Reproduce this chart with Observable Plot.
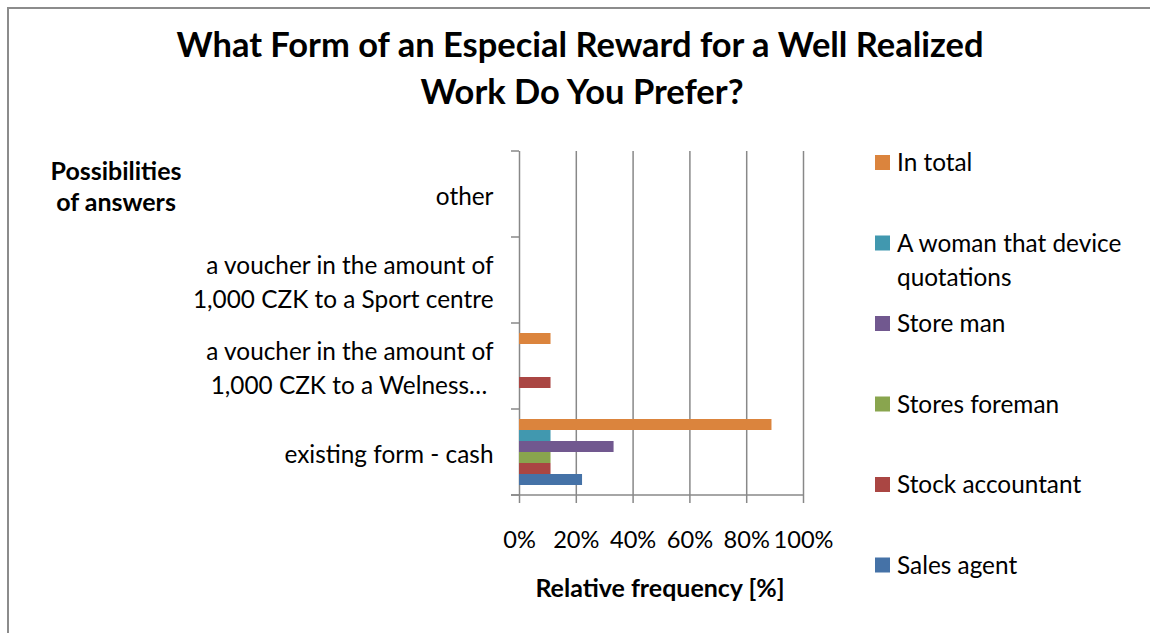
<!DOCTYPE html>
<html>
<head>
<meta charset="utf-8">
<script src="https://cdn.jsdelivr.net/npm/d3@7"></script>
<script src="https://cdn.jsdelivr.net/npm/@observablehq/plot@0.6"></script>
<style>
  body { margin: 0; background: #fff; }
  #wrap { position: relative; width: 1150px; height: 633px; overflow: hidden; background: #fff; }
  #border { position: absolute; left: 7px; top: 7px; width: 1300px; height: 800px;
            border-left: 2px solid #8c8c8c; border-top: 2px solid #8c8c8c; }
  #wrap svg { position: absolute; left: 0; top: 0; }
</style>
</head>
<body>
<div id="wrap"><div id="border"></div></div>
<script>
// ---- data ----
const categories = [
  "existing form - cash",
  "a voucher in the amount of 1,000 CZK to a Welness…",
  "a voucher in the amount of 1,000 CZK to a Sport centre",
  "other"
];
const categoryLabels = [
  "existing form - cash",
  "a voucher in the amount of\n1,000 CZK to a Welness…\u00A0",
  "a voucher in the amount of\n1,000 CZK to a Sport centre",
  "other"
];
const seriesNames = ["Sales agent", "Stock accountant", "Stores foreman", "Store man", "A woman that device quotations", "In total"];
const seriesColors = ["#4572A7", "#AA4643", "#89A54E", "#71588F", "#4198AF", "#DB843D"];
// values in % per category (same order as categories)
const salesAgent      = [22.2, 0, 0, 0];
const stockAccountant = [11.1, 11.1, 0, 0];
const storesForeman   = [11.1, 0, 0, 0];
const storeMan        = [33.3, 0, 0, 0];
const womanQuotations = [11.1, 0, 0, 0];
const inTotal         = [88.9, 11.1, 0, 0];
const seriesValues = [salesAgent, stockAccountant, storesForeman, storeMan, womanQuotations, inTotal];
const xTicks = [0, 20, 40, 60, 80, 100];

const titleLines = ["What Form of an Especial Reward for a Well Realized", "Work Do You Prefer?"];
const yTitleLines = ["Possibilities", "of answers"];
const xTitle = "Relative frequency [%]";

// ---- font fitting (Calibri-like sizes with Lato) ----
const ctx = document.createElement("canvas").getContext("2d");
function fitSize(text, weight, target) {
  ctx.font = `${weight} 100px Lato`;
  return 100 * target / ctx.measureText(text).width;
}
const base = fitSize("existing form - cash", "normal", 209);
const tickFont = fitSize("100%", "normal", 60);
const titleSize = fitSize(titleLines[0], "bold", 809);
const axisTitleSize = fitSize(xTitle, "bold", 250);

// keep zero values so that every category facet exists
const table = seriesNames.flatMap((s, si) =>
  categories.map((c, ci) => ({category: c, series: s, value: seriesValues[si][ci]}))
);

const gridColor = "#888888";

const chart = Plot.plot({
  width: 1150,
  height: 633,
  marginLeft: 519,
  marginRight: 347,
  marginTop: 151,
  marginBottom: 138,
  style: {fontFamily: "Lato, sans-serif", background: "transparent", overflow: "visible", color: "#000"},
  x: {domain: [0, 100]},
  y: {domain: seriesNames.slice().reverse(), paddingInner: 0, paddingOuter: 0.8, axis: null},
  fy: {domain: categories.slice().reverse(), padding: 0},
  color: {domain: seriesNames, range: seriesColors},
  marks: [
    Plot.ruleX(xTicks, {stroke: gridColor, strokeWidth: 1.5}),
    Plot.barX(table, {x: "value", y: "series", fy: "category", fill: "series"}),
    Plot.axisX(xTicks, {
      tickSize: 8, tickPadding: 44 - 0.71 * tickFont, stroke: gridColor, strokeWidth: 1.5,
      fill: "#000", fontSize: tickFont, tickFormat: d => d + "%", label: null
    }),
    Plot.axisFy({
      anchor: "left", tickSize: 0, tickPadding: 26, fontSize: base, lineHeight: 34 / base,
      fill: "#000", label: null,
      tickFormat: d => categoryLabels[categories.indexOf(d)]
    })
  ]
});

// axis line & category boundary ticks, positioned with Plot's own scales
const fyS = chart.scale("fy"), xS = chart.scale("x");
const x0 = xS.apply(0), x1 = xS.apply(100);
const bounds = fyS.domain.map(d => fyS.apply(d));
const bottom = fyS.apply(fyS.domain[fyS.domain.length - 1]) + fyS.bandwidth;
bounds.push(bottom);
const g = d3.select(chart).append("g").attr("stroke", gridColor).attr("stroke-width", 1.5);
bounds.forEach(b => g.append("line").attr("x1", x0 - 8).attr("x2", x0).attr("y1", b).attr("y2", b));
g.append("line").attr("x1", x0 - 8).attr("x2", x1).attr("y1", bottom).attr("y2", bottom);

document.getElementById("wrap").appendChild(chart);

// ---- overlay: title, axis titles, legend ----
const ov = d3.select("#wrap").append("svg").attr("width", 1150).attr("height", 633)
  .style("font-family", "Lato, sans-serif");
const tt = ov.append("text").attr("text-anchor", "middle").attr("font-weight", "bold")
  .attr("font-size", titleSize);
tt.append("tspan").attr("x", 580).attr("y", 57).text(titleLines[0]);
tt.append("tspan").attr("x", 582).attr("y", 104).text(titleLines[1]);

const yt = ov.append("text").attr("text-anchor", "middle").attr("font-weight", "bold")
  .attr("font-size", axisTitleSize);
yt.append("tspan").attr("x", 116).attr("y", 180).text(yTitleLines[0]);
yt.append("tspan").attr("x", 116).attr("y", 211).text(yTitleLines[1]);

ov.append("text").attr("text-anchor", "middle").attr("font-weight", "bold")
  .attr("font-size", axisTitleSize).attr("x", 660).attr("y", 597).text(xTitle);

// legend (top to bottom: reverse of series order)
const legendOrder = seriesNames.map((s, i) => ({name: s, color: seriesColors[i]})).reverse();
legendOrder.forEach((d, i) => {
  const cy = 162.5 + 80.5 * i;
  ov.append("rect").attr("x", 875).attr("y", cy - 7.5).attr("width", 15).attr("height", 15).attr("fill", d.color);
  const t = ov.append("text").attr("font-size", base).attr("x", 897).attr("y", cy + 8.5);
  const words = d.name.split(" ");
  let line = [], lines = [];
  ctx.font = `normal ${base}px Lato`;
  words.forEach(w => {
    const test = line.concat([w]).join(" ");
    if (ctx.measureText(test).width > 240 && line.length) { lines.push(line.join(" ")); line = [w]; }
    else line.push(w);
  });
  lines.push(line.join(" "));
  lines.forEach((l, li) => t.append("tspan").attr("x", 897).attr("dy", li === 0 ? 0 : 34).text(l));
});
</script>
</body>
</html>
